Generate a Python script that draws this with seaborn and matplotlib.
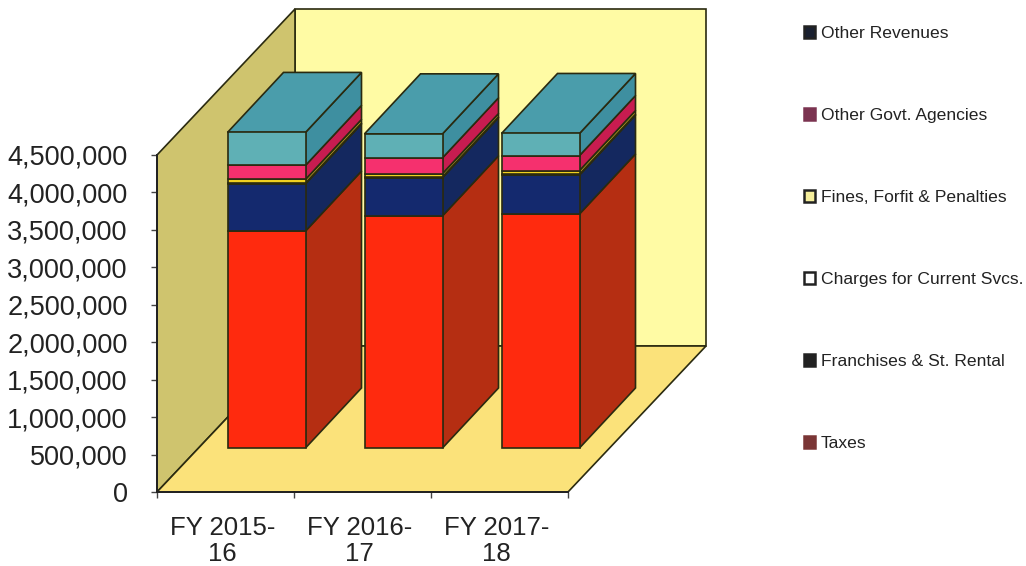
import matplotlib
matplotlib.use("Agg")
import matplotlib.pyplot as plt
from matplotlib.patches import Patch, Polygon
from matplotlib.transforms import ScaledTranslation
import seaborn as sns

categories = ["FY 2015-\n16", "FY 2016-\n17", "FY 2017-\n18"]
taxes = [2897000, 3100000, 3125000]
franchises = [630000, 510000, 520000]
charges = [10000, 10000, 10000]
fines = [50000, 45000, 50000]
other_govt = [187000, 210000, 200000]
other_rev = [440000, 320000, 295000]
yticks = [0, 500000, 1000000, 1500000, 2000000, 2500000, 3000000, 3500000, 4000000, 4500000]
labels = ["Taxes", "Franchises & St. Rental", "Charges for Current Svcs.",
          "Fines, Forfit & Penalties", "Other Govt. Agencies", "Other Revenues"]
front_colors = ["#FF2A0E", "#14296E", "#F0D020", "#F0D020", "#F5306E", "#5FB0B5"]
side_colors = ["#B52E12", "#14285F", "#B8A020", "#B8A020", "#C81C50", "#3E8FA0"]
top_color = "#4A9DAB"
legend_face = ["#7A3535", "#222222", "#FFFFFF", "#F5EE9B", "#7B3350", "#1A2030"]
legend_edge = ["#7A3535", "#222222", "#222222", "#222222", "#7B3350", "#222222"]
series = [taxes, franchises, charges, fines, other_govt, other_rev]

W, H = 1026, 566
sns.set_theme(style="white")
plt.rcParams["font.family"] = ["Liberation Sans", "DejaVu Sans"]
EDGE = "#2A2A10"

fig = plt.figure(figsize=(W / 100, H / 100), dpi=100, facecolor="white")
L, R, B, T = 157, 568, 492, 155
ax = fig.add_axes([L / W, 1 - B / H, (R - L) / W, (B - T) / H])
# bars stand on a plane part-way into the box
off_x, off_y = 41, 44
ab = fig.add_axes([(L + off_x) / W, 1 - (B - off_y) / H, (R - L) / W, (B - T) / H], facecolor="none")

xlim = (-0.5, 2.5)
ylim = (0, 4500000)
ax.set_xlim(xlim)
ax.set_ylim(ylim)
px_x = 3 / (R - L)
px_y = 4500000 / (B - T)

# box walls
dxw, dyw = 138 * px_x, 146 * px_y
wall_kw = dict(edgecolor=EDGE, linewidth=1.2, clip_on=False)
ax.add_patch(Polygon([(-0.5 + dxw, dyw), (2.5 + dxw, dyw), (2.5 + dxw, 4500000 + dyw), (-0.5 + dxw, 4500000 + dyw)],
                     facecolor="#FFFBA4", **wall_kw))
ax.add_patch(Polygon([(-0.5, 0), (-0.5 + dxw, dyw), (-0.5 + dxw, 4500000 + dyw), (-0.5, 4500000)],
                     facecolor="#CFC46E", **wall_kw))
ax.add_patch(Polygon([(-0.5, 0), (2.5, 0), (2.5 + dxw, dyw), (-0.5 + dxw, dyw)],
                     facecolor="#FBE27A", **wall_kw))

for s in ["top", "right"]:
    ax.spines[s].set_visible(False)
for s in ["left", "bottom"]:
    ax.spines[s].set_color("#222222")
    ax.spines[s].set_linewidth(1.4)
    ax.spines[s].set_zorder(5)
ax.set_yticks(yticks)
ax.set_yticklabels([f"{v:,}" for v in yticks])
ax.set_xticks([0, 1, 2])
ax.set_xticklabels(categories)
ax.set_xticks([-0.5, 0.5, 1.5, 2.5], minor=True)
ax.tick_params(axis="x", which="major", length=0, pad=17, labelsize=18.5, labelcolor="#222222")
ax.tick_params(axis="x", which="minor", length=4, width=1, color="#444444", bottom=True)
ax.tick_params(axis="y", length=4, width=1, color="#444444", left=True, pad=17, labelsize=19.5, labelcolor="#222222")
shift = ScaledTranslation(-3 / 100, 0, fig.dpi_scale_trans)
for t in ax.get_xticklabels():
    t.set_linespacing(1.15)
    t.set_transform(t.get_transform() + shift)

# stacked bars: front faces
bar_w = 78 * px_x
bottom = [0, 0, 0]
for vals, col in zip(series, front_colors):
    sns.barplot(x=categories, y=vals, bottom=bottom, color=col, width=bar_w, saturation=1,
                edgecolor=EDGE, linewidth=1.2, ax=ab, clip_on=False, zorder=3, errorbar=None)
    bottom = [b + v for b, v in zip(bottom, vals)]
ab.set_xlim(xlim)
ab.set_ylim(ylim)
ab.axis("off")

# depth faces of the bars
ddx, ddy = 56 * px_x, 60 * px_y
face_kw = dict(edgecolor=EDGE, linewidth=1.2, clip_on=False, zorder=2)
for i in range(len(categories)):
    x1 = i + bar_w / 2
    x0 = i - bar_w / 2
    b = 0
    for vals, col in zip(series, side_colors):
        t = b + vals[i]
        ab.add_patch(Polygon([(x1, b), (x1 + ddx, b + ddy), (x1 + ddx, t + ddy), (x1, t)], facecolor=col, **face_kw))
        b = t
    ab.add_patch(Polygon([(x0, b), (x1, b), (x1 + ddx, b + ddy), (x0 + ddx, b + ddy)], facecolor=top_color, **face_kw))

handles = [Patch(facecolor=f, edgecolor=e, linewidth=1.8, label=l)
           for f, e, l in zip(legend_face, legend_edge, labels)][::-1]
fig.legend(handles=handles, loc="upper left", bbox_to_anchor=(804 / W, 1 - 26 / H), frameon=False,
           fontsize=12.6, labelcolor="#222222", handlelength=0.65, handleheight=0.65, handletextpad=0.3,
           labelspacing=3.83, borderpad=0, borderaxespad=0)

fig.savefig("out.png", dpi=100, facecolor="white")
